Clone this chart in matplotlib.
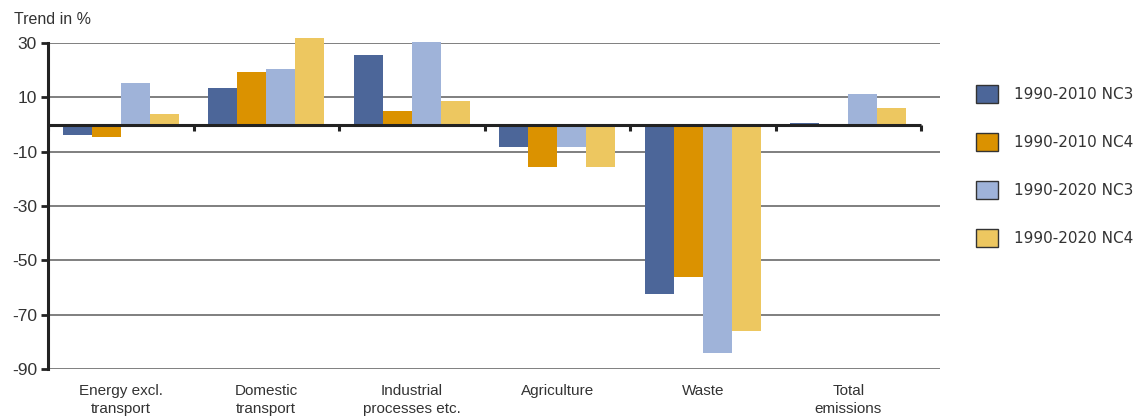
import numpy as np
import matplotlib.pyplot as plt
from matplotlib.patches import Patch

plt.rcParams['font.family'] = ['Liberation Sans', 'DejaVu Sans']

# data
categories = ['Energy excl.\ntransport', 'Domestic\ntransport', 'Industrial\nprocesses etc.',
              'Agriculture', 'Waste', 'Total\nemissions']
series = ['1990-2010 NC3', '1990-2010 NC4', '1990-2020 NC3', '1990-2020 NC4']
nc3_2010 = [-4.0, 13.6, 25.4, -8.1, -62.5, 0.6]
nc4_2010 = [-4.7, 19.5, 4.8, -15.7, -56.2, -1.0]
nc3_2020 = [15.1, 20.6, 30.5, -8.1, -84.2, 11.4]
nc4_2020 = [4.0, 32.0, 8.5, -15.7, -76.1, 5.9]
yticks = [30, 10, -10, -30, -50, -70, -90]

colors = ['#4c6699', '#db9200', '#9fb3d9', '#edc760']
values = [nc3_2010, nc4_2010, nc3_2020, nc4_2020]

fig = plt.figure(figsize=(11.35, 4.17), dpi=100)
ax = fig.add_axes([48 / 1135, 1 - 369 / 417, (940 - 48) / 1135, (369 - 43) / 417])

n = len(categories)
x = np.arange(n)
w = 0.2
for i, (vals, c) in enumerate(zip(values, colors)):
    bars = ax.bar(x + (i - 1.5) * w, vals, w, color=c, zorder=3, label=series[i])
    for b in bars:
        b.set_clip_on(False)

# grid lines
for t in yticks:
    ax.axhline(t, color='#6a6a6a', lw=1.2, zorder=1)

# zero line with category ticks
ax.plot([-0.5, n - 0.5], [0, 0], color='#222222', lw=2.2, zorder=4, solid_capstyle='butt')
for b in np.arange(n + 1) - 0.5:
    ax.plot([b, b], [0, -2.5], color='#222222', lw=2.2, zorder=4, solid_capstyle='butt')

ax.set_xlim(-0.5, n - 0.5 + 19 / 145.5)
ax.set_ylim(-90, 30)
ax.set_yticks(yticks)
ax.set_yticklabels([str(t) for t in yticks], fontsize=12.5, color='#333333')
ax.tick_params(axis='y', length=5, width=2, color='#222222', pad=3)
ax.set_xticks(x)
ax.set_xticklabels(categories, fontsize=11, color='#333333', linespacing=1.3)
ax.tick_params(axis='x', length=0, pad=11)
for s in ['top', 'right', 'bottom']:
    ax.spines[s].set_visible(False)
ax.spines['left'].set_linewidth(2.2)
ax.spines['left'].set_color('#222222')
ax.spines['left'].set_zorder(5)

fig.text(14 / 1135, 1 - 20 / 417, 'Trend in %', fontsize=11.5, color='#333333', va='center')

handles = [Patch(facecolor=c, edgecolor='#333333', lw=1) for c in colors]
fig.legend(handles, series, loc='upper left', bbox_to_anchor=(970 / 1135, 1 - 79 / 417),
           frameon=False, handlelength=1.45, handleheight=1.45,
           labelspacing=1.95, handletextpad=1.0, borderaxespad=0, labelcolor='#333333',
           prop={'family': ['DejaVu Sans'], 'size': 11})

fig.savefig('out.png', dpi=100)
